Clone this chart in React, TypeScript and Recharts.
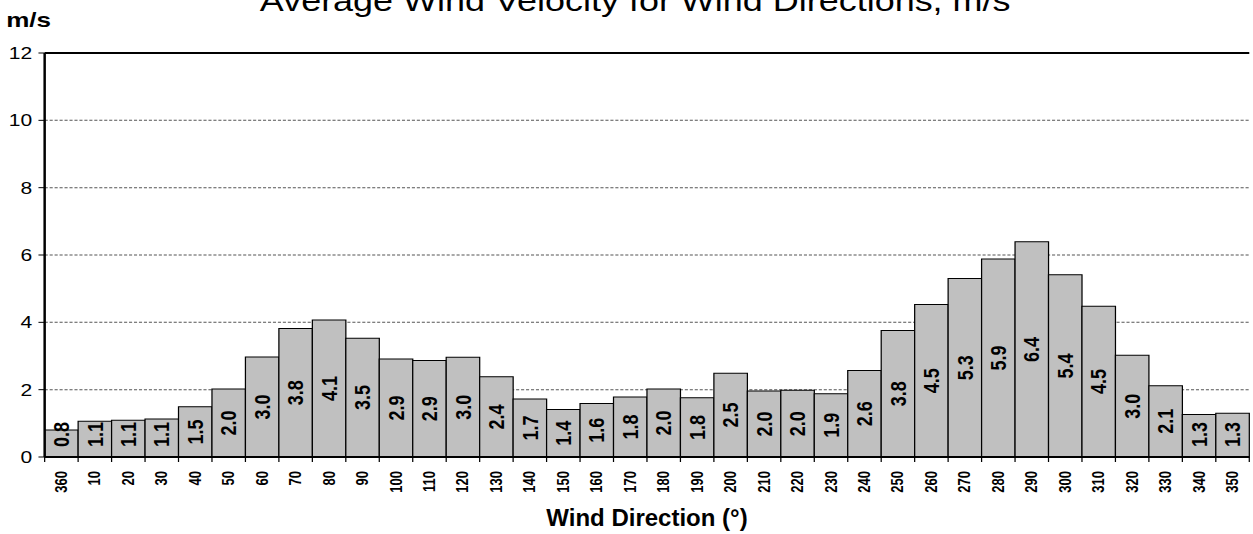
import React from "react";
import { Bar, BarChart, CartesianGrid, LabelList, ReferenceLine, XAxis, YAxis } from "recharts";

// wind direction sectors, degrees
const directions = [
  "360", "10", "20", "30", "40", "50", "60", "70", "80", "90", "100", "110",
  "120", "130", "140", "150", "160", "170", "180", "190", "200", "210", "220", "230",
  "240", "250", "260", "270", "280", "290", "300", "310", "320", "330", "340", "350"
];

// average wind velocity, m/s
const velocity = [
  0.8, 1.06, 1.09, 1.13, 1.49, 2.02, 2.97, 3.82, 4.07, 3.53, 2.91, 2.87,
  2.96, 2.38, 1.72, 1.41, 1.59, 1.78, 2.02, 1.76, 2.49, 1.96, 1.98, 1.88,
  2.57, 3.76, 4.53, 5.3, 5.88, 6.39, 5.41, 4.48, 3.02, 2.12, 1.26, 1.3
];

const yTicks = [0, 2, 4, 6, 8, 10, 12];

const data = directions.map((dir, i) => ({ dir, v: velocity[i] }));

// the reference is stretched sideways, so draw narrower and scale up
const W = 1010;
const H = 534;
const STRETCH = 1253 / W;
const LEFT = 36;
const RIGHT = 3;
const TOP = 53;
const BOTTOM_AXIS = 77;
const BAND = (W - LEFT - RIGHT) / directions.length;
const FONT = "'Liberation Sans', Arial, sans-serif";

function DirTick(props: any) {
  const { x, y, payload, index } = props;
  const axisY = y - 14;
  return (
    <g>
      <line x1={x - BAND / 2} x2={x - BAND / 2} y1={axisY} y2={axisY + 5} stroke="#000" strokeWidth={1} />
      {index === directions.length - 1 && (
        <line x1={x + BAND / 2} x2={x + BAND / 2} y1={axisY} y2={axisY + 5} stroke="#000" strokeWidth={1} />
      )}
      <text
        x={x}
        y={y}
        transform={`rotate(-90 ${x} ${y})`}
        textAnchor="end"
        dominantBaseline="central"
        fontFamily={FONT}
        fontWeight="bold"
        fontSize={13}
        fill="#000"
      >
        {payload.value}
      </text>
    </g>
  );
}

function BarValue(props: any) {
  const vb = props.viewBox ?? {};
  const x = Number(props.x ?? vb.x);
  const y = Number(props.y ?? vb.y);
  const width = Number(props.width ?? vb.width);
  const height = Number(props.height ?? vb.height);
  const cx = x + width / 2;
  const base = y + height;
  // centred in the bar, but kept clear of the axis on short bars
  const cy = Math.min(y + height / 2, base - 22.5);
  return (
    <text
      x={cx}
      y={cy}
      transform={`rotate(-90 ${cx} ${cy})`}
      textAnchor="middle"
      dominantBaseline="central"
      fontFamily={FONT}
      fontWeight="bold"
      fontSize={18}
      fill="#000"
    >
      {Number(props.value).toFixed(1)}
    </text>
  );
}

export default function App() {
  return (
    <div style={{ position: "absolute", left: 0, top: 0, width: 1253, height: H, overflow: "hidden", background: "#fff" }}>
      <div style={{ position: "absolute", left: 0, top: 0, width: W, height: H, transform: `scaleX(${STRETCH})`, transformOrigin: "0 0" }}>
        <BarChart
          width={W}
          height={H}
          data={data}
          margin={{ top: TOP, right: RIGHT, left: 0, bottom: 0 }}
          barCategoryGap={0}
        >
          <CartesianGrid vertical={false} stroke="#555" strokeDasharray="2.5 1.5" />
          <XAxis
            dataKey="dir"
            height={BOTTOM_AXIS}
            interval={0}
            tickSize={0}
            tickMargin={14}
            tick={<DirTick />}
            axisLine={{ stroke: "#000", strokeWidth: 2 }}
          />
          <YAxis
            width={LEFT}
            domain={[0, 12]}
            ticks={yTicks}
            tickSize={5}
            tickMargin={5}
            tickLine={{ stroke: "#000" }}
            axisLine={{ stroke: "#000", strokeWidth: 2 }}
            tick={{ fill: "#000", fontSize: 17, fontFamily: FONT }}
          />
          <YAxis
            yAxisId="r"
            orientation="right"
            width={0}
            domain={[0, 12]}
            tick={false}
            tickLine={false}
            axisLine={{ stroke: "#000", strokeWidth: 2 }}
          />
          <ReferenceLine y={12} stroke="#000" strokeWidth={2} />
          <Bar dataKey="v" fill="#c0c0c0" stroke="#000" strokeWidth={1} isAnimationActive={false}>
            <LabelList dataKey="v" content={<BarValue />} />
          </Bar>
        </BarChart>
        <svg width={W} height={H} style={{ position: "absolute", left: 0, top: 0, pointerEvents: "none" }}>
          <text x={512} y={11} textAnchor="middle" fontFamily={FONT} fontSize={29} fill="#000">
            Average Wind Velocity for Wind Directions, m/s
          </text>
          <text x={5} y={27} fontFamily={FONT} fontWeight="bold" fontSize={21} fill="#000">
            m/s
          </text>
        </svg>
      </div>
      <svg width={1253} height={H} style={{ position: "absolute", left: 0, top: 0, pointerEvents: "none" }}>
        <text x={647} y={526} textAnchor="middle" fontFamily={FONT} fontWeight="bold" fontSize={24} fill="#000">
          Wind Direction (°)
        </text>
      </svg>
    </div>
  );
}
